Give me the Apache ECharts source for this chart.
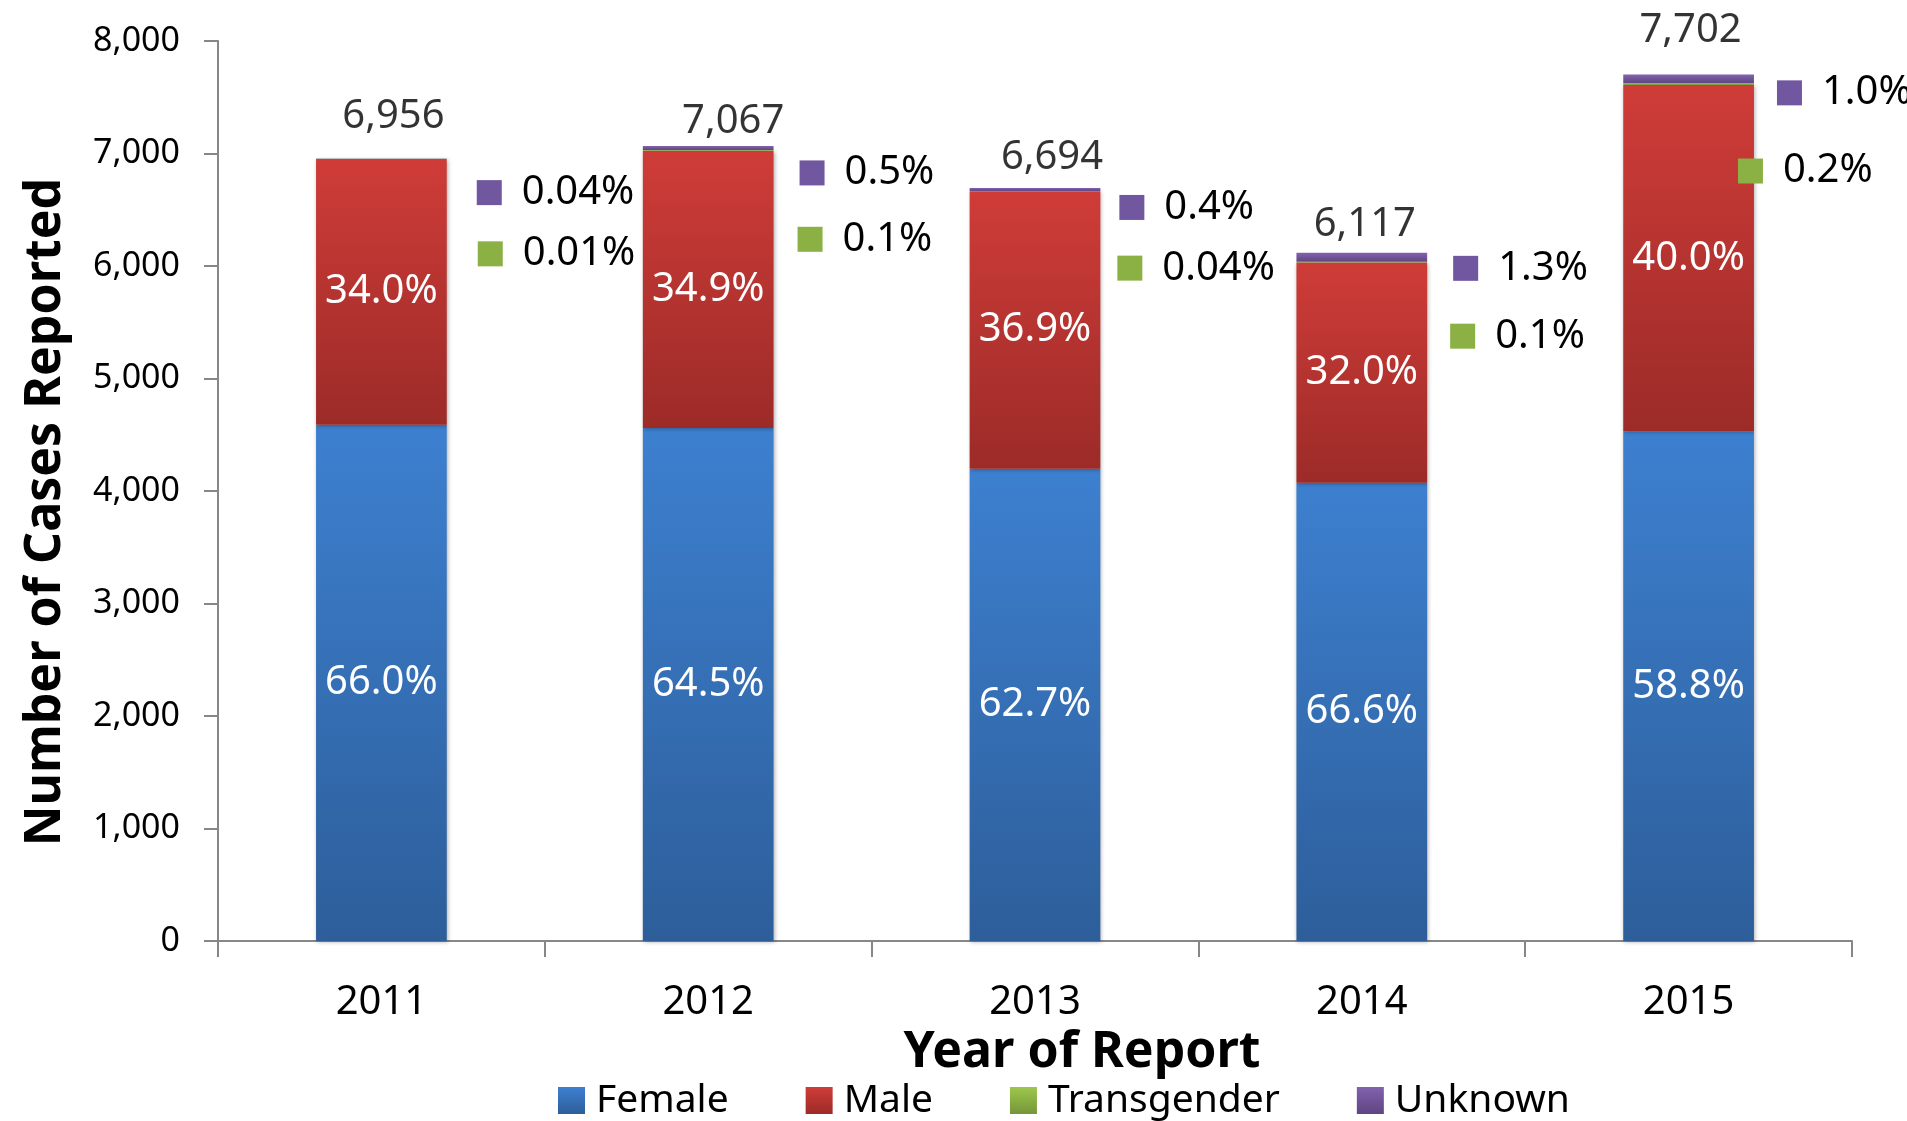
<!DOCTYPE html>
<html>
<head>
<meta charset="utf-8">
<script src="https://cdn.jsdelivr.net/npm/echarts@6/dist/echarts.min.js"></script>
<style>
  html, body { margin: 0; padding: 0; background: #fff; }
  #chart { width: 1907px; height: 1121px; }
</style>
</head>
<body>
<div id="chart"></div>
<script>
// values
const years = ["2011", "2012", "2013", "2014", "2015"];
const female = [4589, 4559, 4197, 4074, 4529];
const male = [2363, 2466, 2467, 1957, 3081];
const transgender = [1, 7, 3, 6, 15];
const unknown = [3, 35, 27, 80, 77];
const totals = [6956, 7067, 6694, 6117, 7702];
const femalePct = ["66.0%", "64.5%", "62.7%", "66.6%", "58.8%"];
const malePct = ["34.0%", "34.9%", "36.9%", "32.0%", "40.0%"];
const transPct = ["0.01%", "0.1%", "0.04%", "0.1%", "0.2%"];
const unknownPct = ["0.04%", "0.5%", "0.4%", "1.3%", "1.0%"];
const yTicks = { min: 0, max: 8000, step: 1000 };

// labels were hand-placed in the original, nudge them the same way
const totalNudge = [[12, -7], [25, 10], [17, 4], [3, 6], [2, -9]];
const unknownNudge = [[6, 34], [2, 25], [-5, 18], [2, 11], [-1, 14]];
const transNudge = [[7, 95], [0, 89], [-7, 77], [-1, 74], [-40, 87]];

const font = "Noto Sans";

function grad(top, bottom) {
  return new echarts.graphic.LinearGradient(0, 0, 0, 1, [
    { offset: 0, color: top },
    { offset: 1, color: bottom }
  ]);
}

const colors = {
  female: grad("#3d80d0", "#2d5e9a"),
  male: grad("#cf3c38", "#9c2b28"),
  trans: grad("#9dc74b", "#76953a"),
  unknown: grad("#8262ae", "#5e4582")
};

const shadow = {
  shadowBlur: 4,
  shadowColor: "rgba(0,0,0,0.3)",
  shadowOffsetX: 1,
  shadowOffsetY: 1
};

function sideLabel(texts, keyColor) {
  return {
    show: true,
    position: "right",
    distance: 24,
    formatter: p => "{k|}{t|" + texts[p.dataIndex] + "}",
    rich: {
      k: { width: 25, height: 25, backgroundColor: keyColor },
      t: { fontFamily: font, fontSize: 40, color: "#000", padding: [0, 0, 0, 20] }
    }
  };
}

function nudged(values, nudge) {
  return values.map((v, i) => ({ value: v, label: { offset: nudge[i] } }));
}

const chart = echarts.init(document.getElementById("chart"));

const option = {
  animation: false,
  textStyle: { fontFamily: font },
  grid: { left: 218, right: 55, top: 41, bottom: 180 },
  legend: {
    data: ["Female", "Male", "Transgender", "Unknown"],
    left: 553,
    top: 1076,
    itemWidth: 27,
    itemHeight: 27,
    itemGap: 77,
    icon: "rect",
    textStyle: { fontFamily: font, fontSize: 39, color: "#000", padding: [0, 0, 0, 6] }
  },
  xAxis: {
    type: "category",
    data: years,
    name: "Year of Report",
    nameLocation: "middle",
    nameGap: 81,
    nameTextStyle: {
      fontFamily: font, fontSize: 50, fontWeight: "bold", color: "#000",
      padding: [0, 0, 0, 94]
    },
    axisLine: { lineStyle: { color: "#878787", width: 2 } },
    axisTick: { show: true, length: 16, lineStyle: { color: "#878787", width: 2 } },
    axisLabel: { fontFamily: font, fontSize: 40, color: "#000", margin: 42 }
  },
  yAxis: {
    type: "value",
    min: yTicks.min,
    max: yTicks.max,
    interval: yTicks.step,
    name: "Number of Cases Reported",
    nameLocation: "middle",
    nameGap: 147,
    nameTextStyle: {
      fontFamily: font, fontSize: 50, fontWeight: "bold", color: "#000",
      padding: [0, 42, 0, 0]
    },
    splitLine: { show: false },
    axisLine: { show: true, lineStyle: { color: "#878787", width: 2 } },
    axisTick: { show: true, length: 14, lineStyle: { color: "#878787", width: 2 } },
    axisLabel: {
      fontFamily: font, fontSize: 34, color: "#000", margin: 38,
      formatter: v => v.toLocaleString("en-US")
    }
  },
  series: [
    {
      name: "Female",
      type: "bar",
      stack: "cases",
      barWidth: "40%",
      data: female,
      itemStyle: Object.assign({ color: colors.female }, shadow),
      label: {
        show: true, position: "inside", color: "#fff",
        fontFamily: font, fontSize: 40,
        formatter: p => femalePct[p.dataIndex]
      }
    },
    {
      name: "Male",
      type: "bar",
      stack: "cases",
      data: male,
      itemStyle: Object.assign({ color: colors.male }, shadow),
      label: {
        show: true, position: "inside", color: "#fff",
        fontFamily: font, fontSize: 40,
        formatter: p => malePct[p.dataIndex]
      }
    },
    {
      name: "Transgender",
      type: "bar",
      stack: "cases",
      data: nudged(transgender, transNudge),
      itemStyle: { color: colors.trans },
      label: sideLabel(transPct, "#8bb044")
    },
    {
      name: "Unknown",
      type: "bar",
      stack: "cases",
      data: nudged(unknown, unknownNudge),
      itemStyle: { color: colors.unknown },
      label: sideLabel(unknownPct, "#7157a0")
    },
    {
      name: "Total",
      type: "scatter",
      data: nudged(totals, totalNudge),
      symbol: "rect",
      symbolSize: 1,
      itemStyle: { color: "rgba(0,0,0,0)" },
      label: {
        show: true, position: "top", distance: 14,
        color: "#000", fontFamily: font, fontSize: 40,
        formatter: p => totals[p.dataIndex].toLocaleString("en-US")
      },
      z: 5
    }
  ]
};

chart.setOption(option);
</script>
</body>
</html>
